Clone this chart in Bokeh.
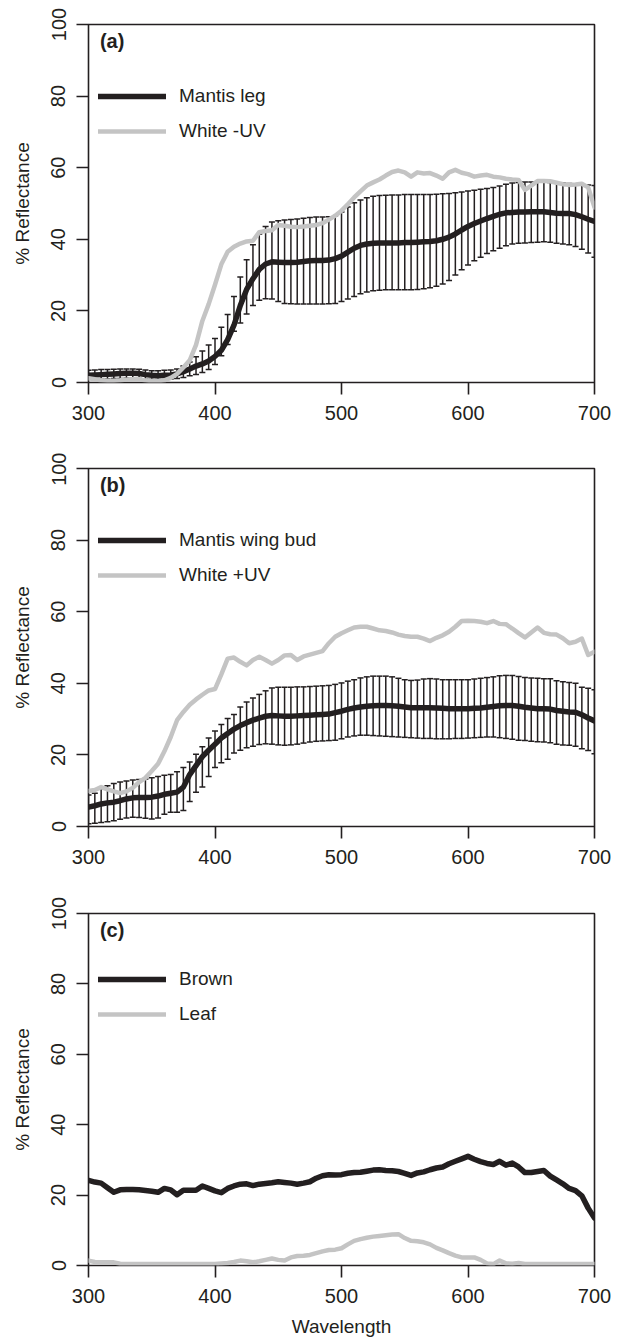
from bokeh.plotting import figure
from bokeh.layouts import column
from bokeh.models import Range1d, FixedTicker, Label, Legend, LegendItem
from bokeh.embed import file_html
from bokeh.resources import INLINE

# ---------------- data ----------------
wavelength = list(range(300, 701, 5))
x_ticks = [300, 400, 500, 600, 700]
y_ticks = [0, 20, 40, 60, 80, 100]

# Panel (a)
a_labels = ["Mantis leg", "White -UV"]
a_mean = [2.0, 2.1, 2.2, 2.3, 2.4, 2.5, 2.6, 2.6, 2.5, 2.2,
          2.0, 1.9, 2.0, 2.1, 2.4, 3.0, 3.8, 4.6, 5.2, 6.0,
          7.3, 9.0, 12.0, 16.0, 21.5, 26.0, 29.0, 31.6, 33.1, 33.7,
          33.6, 33.5, 33.5, 33.6, 33.8, 34.0, 34.1, 34.1, 34.2, 34.6,
          35.3, 36.4, 37.5, 38.3, 38.7, 38.9, 39.0, 39.0, 39.0, 39.0,
          39.1, 39.1, 39.2, 39.3, 39.4, 39.6, 40.0, 40.6, 41.5, 42.6,
          43.6, 44.4, 45.1, 45.8, 46.4, 47.0, 47.4, 47.5, 47.6, 47.6,
          47.7, 47.7, 47.7, 47.5, 47.3, 47.2, 47.2, 46.9, 46.3, 45.6,
          45.0]
a_upper = [3.4, 3.5, 3.6, 3.6, 3.7, 3.8, 3.8, 3.8, 3.7, 3.5,
           3.3, 3.3, 3.4, 3.5, 3.8, 4.6, 5.7, 7.2, 8.8, 10.5,
           12.3, 15.4, 19.0, 24.0, 29.5, 34.3, 38.5, 41.5, 43.6, 44.8,
           45.2, 45.4, 45.5, 45.7, 45.9, 46.1, 46.2, 46.2, 46.3, 46.6,
           47.6, 49.0, 50.2, 51.0, 51.6, 52.0, 52.2, 52.3, 52.4, 52.4,
           52.5, 52.5, 52.5, 52.5, 52.5, 52.6, 52.7, 52.8, 53.0, 53.2,
           53.5, 53.7, 54.0, 54.2, 54.5, 54.9, 55.4, 55.7, 55.9, 56.0,
           56.0, 56.0, 56.0, 55.9, 55.8, 55.7, 55.6, 55.5, 55.4, 55.2,
           55.0]
a_lower = [0.9, 0.9, 1.0, 1.0, 1.1, 1.1, 1.2, 1.2, 1.1, 1.0,
           0.9, 0.9, 0.9, 1.0, 1.1, 1.4, 1.9, 2.2, 2.8, 3.6,
           5.0, 7.5, 10.6, 14.3, 16.6, 19.1, 21.5, 23.0, 23.4, 23.3,
           22.6, 22.1, 22.0, 21.9, 21.9, 21.9, 21.9, 21.9, 22.0, 22.1,
           22.6, 23.3, 24.0, 24.8, 25.3, 25.6, 25.8, 25.9, 25.9, 25.9,
           25.9, 25.9, 26.0, 26.2, 26.5, 26.9, 27.5, 28.5, 30.0, 31.5,
           32.8, 34.0, 35.0, 36.0, 36.8, 37.5, 38.2, 38.7, 38.9, 39.0,
           39.1, 39.2, 39.3, 39.2, 38.9, 38.7, 38.5, 38.0, 37.2, 36.2,
           35.0]
a_white = [1.2, 0.9, 0.6, 0.5, 0.5, 0.6, 0.8, 0.9, 0.9, 0.6,
           0.4, 0.4, 0.6, 1.3, 2.4, 4.2, 6.2, 10.5, 17.2, 21.9,
           27.3, 33.0, 36.5, 37.9, 38.8, 39.4, 39.6, 42.0, 42.3, 42.5,
           44.0, 43.8, 43.5, 43.4, 43.6, 43.8, 44.0, 44.5, 45.5, 46.6,
           48.0, 49.8, 51.7, 53.4, 55.0, 55.9, 56.7, 57.8, 58.8, 59.2,
           58.7, 57.5, 58.7, 58.4, 58.5, 57.8, 56.9, 58.7, 59.4, 58.6,
           58.2, 57.5, 57.8, 58.0, 57.5, 57.3, 56.9, 56.7, 56.6, 53.8,
           55.0, 56.3, 56.3, 56.2, 55.8, 55.4, 55.2, 55.3, 55.5, 54.5,
           48.9]

# Panel (b)
b_labels = ["Mantis wing bud", "White +UV"]
b_mean = [5.4, 5.8, 6.3, 6.6, 6.8, 7.2, 7.7, 8.0, 8.1, 8.1,
          8.2, 8.5, 9.0, 9.3, 9.6, 11.0, 14.5, 17.0, 19.5, 21.3,
          23.0, 24.7, 26.0, 27.2, 28.2, 29.0, 29.7, 30.3, 30.8, 31.0,
          30.9, 30.8, 30.8, 30.9, 31.0, 31.1, 31.2, 31.3, 31.4, 31.8,
          32.2, 32.7, 33.1, 33.4, 33.6, 33.7, 33.8, 33.8, 33.7, 33.6,
          33.4, 33.2, 33.2, 33.2, 33.2, 33.1, 33.0, 32.9, 32.9, 32.9,
          32.9, 33.0, 33.1, 33.3, 33.5, 33.7, 33.8, 33.8, 33.6, 33.3,
          33.1, 32.9, 32.9, 32.8, 32.4, 32.2, 32.0, 31.9, 31.2, 30.3,
          29.5]
b_upper = [8.8, 9.3, 10.5, 11.4, 12.0, 12.4, 12.7, 13.0, 13.1, 13.3,
           13.6, 14.0, 14.3, 14.5, 15.3, 16.5, 18.0, 20.2, 22.3, 24.7,
           26.7, 28.5, 30.2, 31.3, 33.4, 34.8, 35.9, 36.9, 37.9, 38.7,
           38.9, 38.9, 38.9, 39.0, 39.0, 39.1, 39.2, 39.3, 39.4, 39.7,
           40.1, 40.6, 41.0, 41.5, 41.8, 42.0, 42.0, 42.0, 41.8, 41.4,
           41.0, 40.8, 40.9, 41.2, 41.3, 41.2, 41.0, 41.0, 41.0, 41.0,
           41.0, 41.2, 41.4, 41.6, 41.8, 42.1, 42.2, 42.2, 41.9, 41.6,
           41.5, 41.4, 41.3, 41.3, 40.7, 40.4, 40.2, 40.0, 38.9, 38.6,
           38.2]
b_lower = [0.8, 0.9, 1.1, 1.3, 1.6, 2.0, 2.4, 2.6, 2.5, 2.3,
           2.1, 2.4, 3.4, 4.0, 4.0, 4.5, 7.0, 9.6, 11.0, 14.0,
           16.5, 17.8, 18.8, 20.5, 21.3, 22.0, 22.4, 22.9, 23.1, 23.0,
           22.8, 22.7, 22.8, 23.0, 23.3, 23.6, 23.8, 23.9, 24.0, 24.1,
           24.5, 25.0, 25.3, 25.5, 25.5, 25.4, 25.3, 25.2, 25.1, 25.0,
           24.9, 24.8, 24.7, 24.6, 24.6, 24.5, 24.5, 24.5, 24.6, 24.6,
           24.7, 24.8, 24.9, 25.0, 25.0, 24.8, 24.6, 24.4, 24.1, 24.0,
           23.8, 23.7, 23.6, 23.4, 23.0, 22.8, 22.7, 22.4, 21.7, 21.2,
           20.3]
b_white = [9.9, 10.2, 11.0, 10.4, 9.8, 9.3, 9.8, 10.8, 12.4, 13.6,
           15.5, 17.5, 21.0, 25.0, 29.7, 32.0, 34.0, 35.5, 36.8, 38.0,
           38.4, 42.5, 46.9, 47.2, 46.0, 45.0, 46.5, 47.4, 46.5, 45.5,
           46.5, 47.8, 47.9, 46.5, 47.5, 48.0, 48.5, 49.0, 51.2, 53.0,
           54.0, 54.8, 55.6, 55.8, 55.8, 55.3, 54.8, 54.6, 54.2, 53.6,
           53.2, 53.0, 53.0, 52.5, 51.8, 52.7, 53.4, 54.4, 55.8, 57.4,
           57.5, 57.4, 57.2, 56.8, 57.4, 56.6, 56.5, 55.3, 54.0, 52.8,
           54.2, 55.6, 54.1, 53.7, 53.6, 52.6, 51.2, 51.6, 52.5, 47.9,
           48.8]

# Panel (c)
c_labels = ["Brown", "Leaf"]
c_brown = [24.2, 23.7, 23.4, 22.1, 20.8, 21.5, 21.6, 21.6, 21.5, 21.3,
           21.1, 20.8, 21.9, 21.5, 20.1, 21.4, 21.4, 21.4, 22.6, 21.9,
           21.2, 20.7, 21.9, 22.6, 23.1, 23.2, 22.7, 23.1, 23.3, 23.5,
           23.8, 23.6, 23.4, 23.1, 23.4, 23.8, 24.8, 25.5, 25.8, 25.7,
           25.8, 26.2, 26.4, 26.5, 26.8, 27.1, 27.2, 27.0, 26.9, 26.7,
           26.2, 25.6, 26.3, 26.6, 27.2, 27.7, 28.0, 28.9, 29.6, 30.3,
           31.0, 30.2, 29.5, 29.0, 28.7, 29.6, 28.5, 29.1, 28.0, 26.4,
           26.4, 26.7, 27.0, 25.4, 24.3, 23.2, 21.9, 21.3, 19.8, 16.3,
           13.5]
c_leaf = [1.4, 1.0, 0.9, 0.9, 0.9, 0.5, 0.4, 0.4, 0.4, 0.4,
          0.4, 0.4, 0.4, 0.4, 0.4, 0.4, 0.4, 0.4, 0.4, 0.4,
          0.4, 0.6, 0.7, 1.0, 1.4, 1.2, 0.9, 1.2, 1.6, 2.0,
          1.6, 1.4, 2.3, 2.7, 2.8, 3.0, 3.5, 4.0, 4.4, 4.5,
          4.9, 6.0, 7.0, 7.5, 7.9, 8.2, 8.4, 8.6, 8.8, 8.9,
          7.8, 7.0, 6.9, 6.6, 6.0, 5.0, 4.3, 3.5, 2.8, 2.3,
          2.3, 2.3, 1.6, 0.6, 0.4, 1.4, 0.6, 0.5, 0.7, 0.4,
          0.4, 0.4, 0.4, 0.4, 0.4, 0.4, 0.4, 0.4, 0.4, 0.4,
          0.4]

# ---------------- style ----------------
FONT = "Liberation Sans"
DARK = "#231f20"
GREY = "#c4c4c4"


def make_panel(tag, labels, dark, light, upper=None, lower=None,
               height=444, top=16, bottom=70, xlabel=None):
    p = figure(width=612, height=height,
               x_range=Range1d(300, 700), y_range=Range1d(0, 100),
               output_backend="svg", toolbar_location=None,
               min_border_left=88, min_border_right=18,
               min_border_top=top, min_border_bottom=bottom)
    p.grid.visible = False
    p.outline_line_color = DARK
    p.outline_line_width = 1.6
    p.outline_line_alpha = 1.0
    p.background_fill_color = "white"
    p.border_fill_color = "white"

    p.xaxis.ticker = FixedTicker(ticks=x_ticks)
    p.yaxis.ticker = FixedTicker(ticks=y_ticks)
    for ax in (p.xaxis[0], p.yaxis[0]):
        ax.axis_line_color = None
        ax.major_tick_in = 0
        ax.major_tick_out = 12
        ax.minor_tick_in = 0
        ax.minor_tick_out = 0
        ax.major_tick_line_color = DARK
        ax.major_tick_line_width = 1.6
        ax.major_label_text_font = FONT
        ax.major_label_text_font_size = "20px"
        ax.major_label_text_color = DARK
        ax.axis_label_text_font = FONT
        ax.axis_label_text_font_size = "19px"
        ax.axis_label_text_font_style = "normal"
        ax.axis_label_text_color = DARK
    p.yaxis.major_label_orientation = "vertical"
    p.yaxis.major_label_standoff = 11
    p.xaxis.major_label_standoff = 11
    p.yaxis.axis_label = "% Reflectance"
    p.yaxis.axis_label_standoff = 16
    if xlabel:
        p.xaxis.axis_label = xlabel
        p.xaxis.axis_label_standoff = 10

    if upper is not None:
        p.segment(x0=wavelength, y0=lower, x1=wavelength, y1=upper,
                  line_color=DARK, line_width=1.5)
        p.scatter(wavelength, upper, marker="dash", size=6,
                  line_color=DARK, line_width=1.5)
        p.scatter(wavelength, lower, marker="dash", size=6,
                  line_color=DARK, line_width=1.5)

    r_dark = p.line(wavelength, dark, line_color=DARK, line_width=5.5,
                    line_join="round", line_cap="round")
    r_light = p.line(wavelength, light, line_color=GREY, line_width=4.5,
                     line_join="round", line_cap="round")

    legend = Legend(items=[LegendItem(label=labels[0], renderers=[r_dark]),
                           LegendItem(label=labels[1], renderers=[r_light])],
                    location=(10, 240), glyph_width=68, glyph_height=22,
                    label_height=22, label_standoff=13, spacing=13,
                    padding=0, margin=0, border_line_color=None,
                    background_fill_alpha=0,
                    label_text_font=FONT, label_text_font_size="19px",
                    label_text_color=DARK)
    p.add_layout(legend)

    p.add_layout(Label(x=309, y=95.3, text=tag, text_font=FONT,
                       text_font_size="20px", text_font_style="bold",
                       text_baseline="middle", text_align="left",
                       text_color=DARK))
    return p


pa = make_panel("(a)", a_labels, a_mean, a_white, a_upper, a_lower,
                height=452, top=24)
pb = make_panel("(b)", b_labels, b_mean, b_white, b_upper, b_lower)
pc = make_panel("(c)", c_labels, c_brown, c_leaf, height=443, top=17,
                bottom=68, xlabel="Wavelength")

layout = column(pa, pb, pc, spacing=0)
open("out.html", "w").write(file_html(layout, INLINE, title="Reflectance"))
